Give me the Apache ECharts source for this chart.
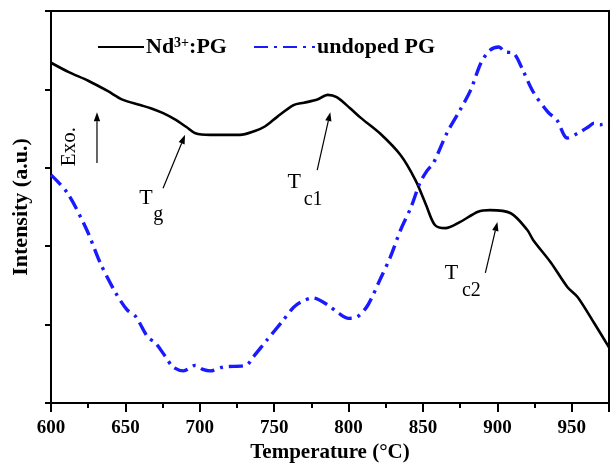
<!DOCTYPE html>
<html><head><meta charset="utf-8">
<script src="https://cdn.jsdelivr.net/npm/echarts@6/dist/echarts.min.js"></script>
<style>html,body{margin:0;padding:0;background:#fff}#c{width:612px;height:466px}</style>
</head><body><div id="c"></div>
<script>
// ---- data ----
const ndTemp = [600, 612, 625, 638, 648, 660, 667, 675, 683, 691, 697, 707, 717, 727, 737, 744, 752, 763, 770, 779, 786, 792, 801, 808, 821, 835, 845, 852, 858, 865, 875, 887, 895, 909, 920, 924, 936, 947, 954, 965, 975];
const ndVal  = [4.34, 4.22, 4.11, 3.98, 3.87, 3.80, 3.76, 3.70, 3.62, 3.52, 3.44, 3.42, 3.42, 3.42, 3.47, 3.53, 3.65, 3.80, 3.83, 3.87, 3.93, 3.90, 3.76, 3.64, 3.44, 3.16, 2.84, 2.53, 2.27, 2.23, 2.31, 2.44, 2.46, 2.42, 2.21, 2.08, 1.79, 1.48, 1.35, 1.02, 0.71];
const unTemp = [600, 611, 624, 633, 643, 651, 657, 665, 670, 677, 682, 689, 697, 702, 707, 716, 731, 736, 745, 755, 763, 768, 776, 786, 793, 800, 806, 813, 821, 828, 835, 842, 848, 853, 857, 866, 875, 882, 889, 895, 901, 905, 911, 917, 924, 934, 940, 947, 954, 961, 965, 969, 975];
const unVal  = [2.91, 2.68, 2.21, 1.79, 1.42, 1.19, 1.10, 0.84, 0.77, 0.59, 0.46, 0.41, 0.48, 0.43, 0.41, 0.46, 0.48, 0.59, 0.80, 1.03, 1.22, 1.29, 1.34, 1.25, 1.15, 1.08, 1.10, 1.25, 1.57, 1.86, 2.21, 2.50, 2.81, 2.97, 3.06, 3.44, 3.74, 3.99, 4.34, 4.50, 4.54, 4.48, 4.46, 4.25, 3.97, 3.71, 3.61, 3.38, 3.44, 3.52, 3.57, 3.55, 3.57];
const xTicks = [600, 650, 700, 750, 800, 850, 900, 950];
const seriesNames = ['Nd3+:PG', 'undoped PG'];
// annotation anchors in data coordinates
const arrows = [
  {from: [675.3, 2.74], to: [690.1, 3.42]},
  {from: [778.9, 2.97], to: [787.7, 3.71]},
  {from: [891.9, 1.66], to: [900.0, 2.31]},
  {from: [630.9, 3.06], to: [630.9, 3.71]}
];
const labels = [
  {main: 'T', sub: 'g',  mainAt: [663.9, 2.61], subAt: [672.0, 2.40]},
  {main: 'T', sub: 'c1', mainAt: [763.4, 2.81], subAt: [776.2, 2.59]},
  {main: 'T', sub: 'c2', mainAt: [869.1, 1.66], subAt: [882.5, 1.43]}
];
const exoAt = [612.1, 3.27];

const serif = '"Liberation Serif", "DejaVu Serif", serif';
const chart = echarts.init(document.getElementById('c'), null, {renderer: 'canvas'});
const zip = (a, b) => a.map((t, i) => [t, b[i]]);
const blue = '#1a1aff';

const legendText = {
  padding: [0, 0, 0, -3],
  rich: {
    b: {fontFamily: serif, fontWeight: 'bold', fontSize: 22, color: '#000'},
    sup: {fontFamily: serif, fontWeight: 'bold', fontSize: 14, color: '#000', verticalAlign: 'top'}
  }
};
const legendFmt = function (n) { return n === 'Nd3+:PG' ? '{b|Nd}{sup|3+}{b|:PG}' : '{b|' + n + '}'; };

chart.setOption({
  animation: false,
  backgroundColor: '#fff',
  grid: {left: 51, right: 3, top: 11, bottom: 63, show: true, borderColor: '#000', borderWidth: 2,
         containLabel: false, outerBoundsMode: 'none'},
  legend: [
    {left: 92, top: 31, itemWidth: 46, itemHeight: 14, data: [seriesNames[0]],
     itemStyle: {opacity: 0}, formatter: legendFmt, textStyle: legendText},
    {left: 248, top: 31, itemWidth: 61, itemHeight: 14, data: [seriesNames[1]],
     itemStyle: {opacity: 0}, formatter: legendFmt, textStyle: legendText}
  ],
  xAxis: {
    type: 'value', min: 600, max: 975, interval: 50,
    name: 'Temperature (°C)', nameLocation: 'middle', nameGap: 39, nameMoveOverlap: false,
    nameTextStyle: {fontFamily: serif, fontWeight: 'bold', fontSize: 21, color: '#000'},
    axisLine: {show: true, onZero: false, lineStyle: {color: '#000', width: 2}},
    axisTick: {show: true, inside: false, length: 9, lineStyle: {color: '#000', width: 2}},
    minorTick: {show: true, splitNumber: 2, length: 5, lineStyle: {color: '#000', width: 2}},
    axisLabel: {
      margin: 16, fontFamily: serif, fontWeight: 'bold', fontSize: 19, color: '#000',
      showMaxLabel: false,
      formatter: function (v) { return xTicks.indexOf(v) >= 0 ? String(v) : ''; }
    },
    splitLine: {show: false}
  },
  yAxis: {
    type: 'value', min: 0, max: 5, interval: 1,
    name: 'Intensity (a.u.)', nameLocation: 'middle', nameGap: 19, nameMoveOverlap: false,
    nameTextStyle: {fontFamily: serif, fontWeight: 'bold', fontSize: 22, color: '#000'},
    axisLine: {show: true, onZero: false, lineStyle: {color: '#000', width: 2}},
    axisTick: {show: true, inside: false, length: 6, lineStyle: {color: '#000', width: 2}},
    axisLabel: {show: false},
    splitLine: {show: false}
  },
  series: [
    {name: seriesNames[0], type: 'line', data: zip(ndTemp, ndVal), symbol: 'none', smooth: 0.3,
     lineStyle: {color: '#000', width: 2.6}, itemStyle: {color: '#000'}},
    {name: seriesNames[1], type: 'line', data: zip(unTemp, unVal), symbol: 'none', smooth: 0.3,
     lineStyle: {color: blue, width: 3.4, type: [14, 6, 3, 6]}, itemStyle: {color: blue}}
  ]
});

function px(p) { return chart.convertToPixel({gridIndex: 0}, p); }
const g = [];
arrows.forEach(function (a) {
  const f = px(a.from), t = px(a.to);
  const ang = Math.atan2(t[1] - f[1], t[0] - f[0]);
  const L = 9, W = 3.2;
  const bx = t[0] - L * Math.cos(ang), by = t[1] - L * Math.sin(ang);
  const nx = -Math.sin(ang) * W, ny = Math.cos(ang) * W;
  g.push({type: 'line', shape: {x1: f[0], y1: f[1], x2: bx, y2: by}, style: {stroke: '#000', lineWidth: 1.2}, z: 100});
  g.push({type: 'polygon', shape: {points: [[t[0], t[1]], [bx + nx, by + ny], [bx - nx, by - ny]]}, style: {fill: '#000'}, z: 100});
});
labels.forEach(function (l) {
  const m = px(l.mainAt), s = px(l.subAt);
  g.push({type: 'text', x: m[0], y: m[1], style: {text: l.main, font: '22px ' + serif, fill: '#000', align: 'center', verticalAlign: 'middle'}, z: 100});
  g.push({type: 'text', x: s[0], y: s[1], style: {text: l.sub, font: '20px ' + serif, fill: '#000', align: 'center', verticalAlign: 'middle'}, z: 100});
});
const e = px(exoAt);
g.push({type: 'text', x: e[0], y: e[1], rotation: Math.PI / 2, style: {text: 'Exo.', font: '21px ' + serif, fill: '#000', align: 'center', verticalAlign: 'middle'}, z: 100});
chart.setOption({graphic: g});
</script></body></html>
